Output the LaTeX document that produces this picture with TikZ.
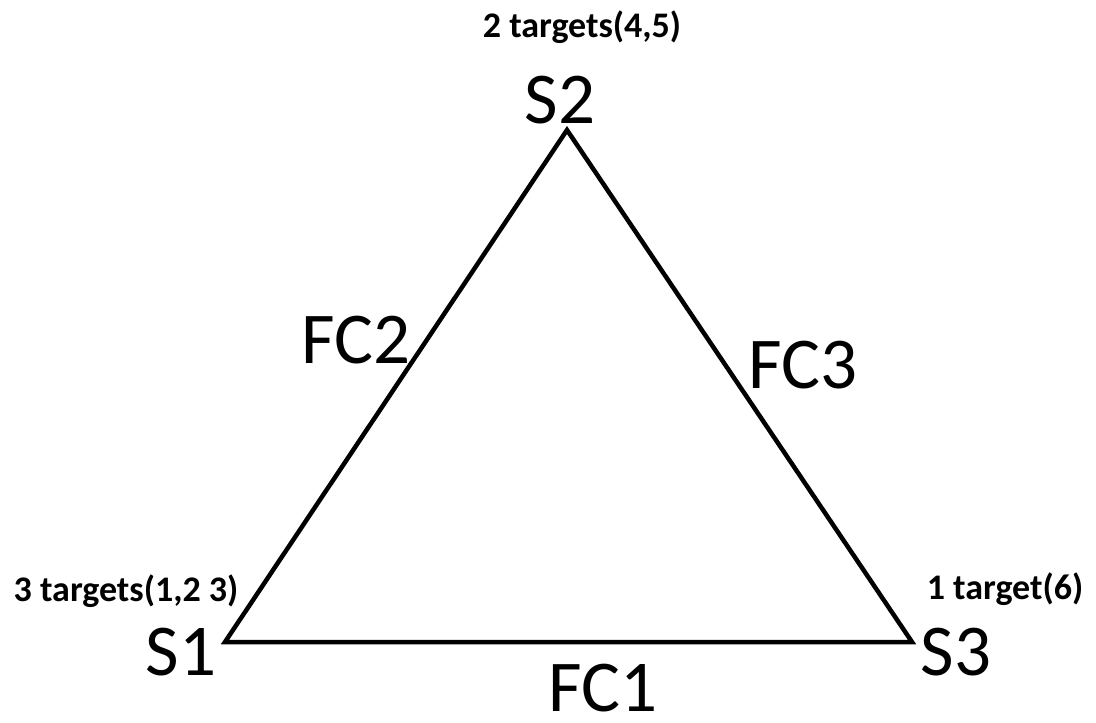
\documentclass[tikz,border=0pt]{standalone}
\usepackage{fontspec}
\setmainfont{Carlito}
\usetikzlibrary{positioning}
\tikzset{
  sitelabel/.style={inner sep=0pt, font=\fontsize{73}{80}\selectfont},
  linklabel/.style={inner sep=0pt, font=\fontsize{73}{80}\selectfont},
  targetlabel/.style={inner sep=0pt, font=\bfseries\fontsize{36}{40}\selectfont},
  linkline/.style={line width=4.5pt, line join=miter, draw=black}
}
\begin{document}
\begin{tikzpicture}[x=1pt, y=-1pt]
\useasboundingbox (0,0) rectangle (1096,723);
\coordinate (s1) at (225,642);
\coordinate (s2) at (567,130);
\coordinate (s3) at (912,642);

\draw[linkline] (s1) -- (s2) -- (s3) -- cycle;

\node[sitelabel] (lbl1) at (181,652) {S1};
\node[sitelabel] (lbl2) at (560,100) {S2};
\node[sitelabel] (lbl3) at (956,652) {S3};

\node[linklabel] (fc1) at (603,688) {FC1};
\node[linklabel] (fc2) at (356,340) {FC2};
\node[linklabel] (fc3) at (803,365) {FC3};

\node[targetlabel] (tg1) at (126,591) {3 targets(1,2 3)};
\node[targetlabel] (tg2) at (582,27) {2 targets(4,5)};
\node[targetlabel] (tg3) at (1005,589) {1 target(6)};
\end{tikzpicture}
\end{document}
